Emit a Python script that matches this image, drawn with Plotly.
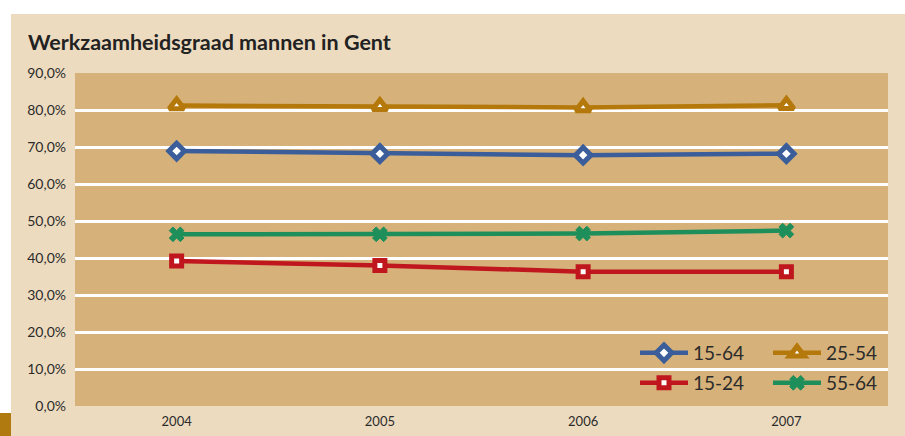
import plotly.graph_objects as go

years = ["2004", "2005", "2006", "2007"]
series_names = ["15-64", "25-54", "15-24", "55-64"]
v_15_64 = [68.9, 68.2, 67.8, 68.2]
v_25_54 = [81.2, 81.0, 80.7, 81.3]
v_15_24 = [39.2, 38.0, 36.3, 36.3]
v_55_64 = [46.4, 46.4, 46.6, 47.4]
y_ticks = [0, 10, 20, 30, 40, 50, 60, 70, 80, 90]
y_tick_labels = ["0,0%", "10,0%", "20,0%", "30,0%", "40,0%", "50,0%", "60,0%", "70,0%", "80,0%", "90,0%"]

W, H = 905, 436
L, R, T, B = 75, 17, 73, 30
PW, PH = W - L - R, H - T - B

PANEL = "#EDDBBF"
PLOT_BG = "#D6B179"
TEXT = "#2b2b2b"
FONT = "Lato, Open Sans, sans-serif"


def px_x(px):
    return (px - L) / PW


def px_y(py):
    return (H - B - py) / PH


styles = {
    "15-64": ("#3B5E9A", "diamond", 12, "white", "legend"),
    "25-54": ("#B5790B", "triangle-up", 13, "white", "legend"),
    "15-24": ("#C0161E", "square", 10, "white", "legend2"),
    "55-64": ("#1E8F5B", "x", 13, "#1E8F5B", "legend2"),
}
values = {"15-64": v_15_64, "25-54": v_25_54, "15-24": v_15_24, "55-64": v_55_64}

fig = go.Figure()
for name in series_names:
    color, symbol, size, fill, leg = styles[name]
    fig.add_scatter(
        x=years, y=values[name], name=name, mode="lines+markers", legend=leg,
        line={"color": color, "width": 4.5},
        marker={"symbol": symbol, "size": size, "color": fill,
                "line": {"color": color, "width": 5 if fill == "white" else 1}},
    )

# beige panel, tan plot area, orange corner block
fig.add_shape(type="rect", xref="paper", yref="paper", layer="below",
              x0=px_x(11), x1=px_x(W), y0=px_y(H), y1=px_y(14),
              fillcolor=PANEL, line={"width": 0})
fig.add_shape(type="rect", xref="paper", yref="paper", layer="below",
              x0=0, x1=1, y0=0, y1=1, fillcolor=PLOT_BG, line={"width": 0})
fig.add_shape(type="rect", xref="paper", yref="paper", layer="below",
              x0=px_x(0), x1=px_x(11), y0=px_y(H), y1=px_y(413),
              fillcolor="#B07A10", line={"width": 0})

legend_common = {"orientation": "h", "xanchor": "left", "yanchor": "middle",
                 "bgcolor": "rgba(0,0,0,0)", "font": {"size": 19, "color": TEXT, "family": FONT},
                 "entrywidth": 70, "itemwidth": 48, "tracegroupgap": 0}

fig.update_layout(
    width=W, height=H,
    margin={"l": L, "r": R, "t": T, "b": B, "pad": 0, "autoexpand": False},
    paper_bgcolor="white",
    plot_bgcolor="rgba(0,0,0,0)",
    font={"family": FONT, "color": TEXT},
    title={"text": "<b>Werkzaamheidsgraad mannen in Gent</b>", "x": 28 / W, "xanchor": "left",
           "xref": "container", "y": 1 - 42 / H, "yanchor": "middle",
           "font": {"size": 21.5, "color": "#222222", "family": FONT}},
    legend={**legend_common, "x": px_x(635), "y": px_y(353)},
    legend2={**legend_common, "x": px_x(635), "y": px_y(383)},
    showlegend=True,
)
fig.update_xaxes(range=[-0.5, 3.5], showgrid=False, zeroline=False, showline=False,
                 tickfont={"size": 13, "color": TEXT}, ticks="", ticklabelstandoff=6)
fig.update_yaxes(range=[0, 90], tickvals=y_ticks, ticktext=y_tick_labels,
                 showgrid=True, gridcolor="white", gridwidth=3, zeroline=False,
                 tickfont={"size": 14, "color": TEXT}, ticklabelstandoff=8)

fig.write_html("out.html", config={"displayModeBar": False},
               post_script="document.body.style.margin = '0';")
